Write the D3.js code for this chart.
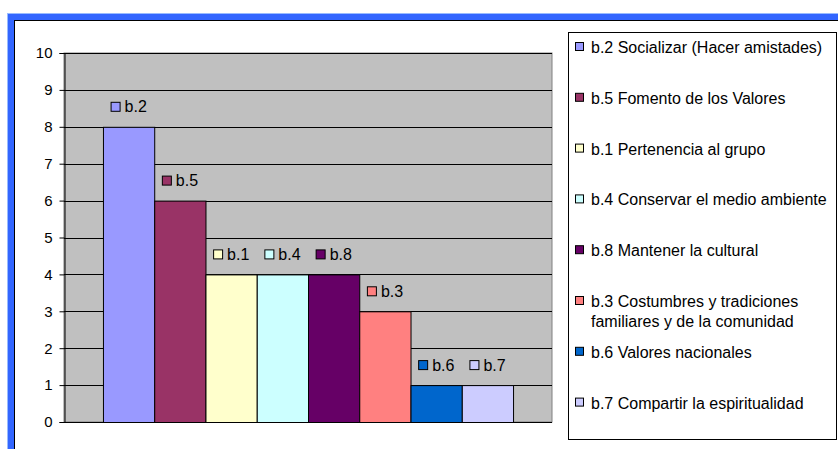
<!DOCTYPE html>
<html>
<head>
<meta charset="utf-8">
<script src="https://cdn.jsdelivr.net/npm/d3@7"></script>
<style>
  body { margin: 0; background: #fff; }
  svg { display: block; font-family: "Liberation Sans", Arial, sans-serif; }
</style>
</head>
<body>
<svg id="chart" width="838" height="449"></svg>
<script>
"use strict";

// data
const codes = ["b.2", "b.5", "b.1", "b.4", "b.8", "b.3", "b.6", "b.7"];
const values = [8, 6, 4, 4, 4, 3, 1, 1];
const legendLabels = [
  ["b.2 Socializar (Hacer amistades)"],
  ["b.5 Fomento de los Valores"],
  ["b.1 Pertenencia al grupo"],
  ["b.4 Conservar el medio ambiente"],
  ["b.8 Mantener la cultural"],
  ["b.3 Costumbres y tradiciones", "familiares y de la comunidad"],
  ["b.6 Valores nacionales"],
  ["b.7 Compartir la espiritualidad"]
];
const yTicks = [0, 1, 2, 3, 4, 5, 6, 7, 8, 9, 10];

const colors = ["#9999FF", "#993366", "#FFFFCC", "#CCFFFF", "#660066", "#FF8080", "#0066CC", "#CCCCFF"];

const FONT = "'Liberation Sans', Arial, sans-serif";
const svg = d3.select("#chart");

// blue frame (top + left)
svg.append("rect").attr("x", 7).attr("y", 13).attr("width", 831).attr("height", 8).attr("fill", "#3366FF");
svg.append("rect").attr("x", 7).attr("y", 13).attr("width", 8).attr("height", 436).attr("fill", "#3366FF");
svg.append("line").attr("x1", 7).attr("x2", 838).attr("y1", 13.5).attr("y2", 13.5).attr("stroke", "#99BBFF");
svg.append("line").attr("x1", 7.5).attr("x2", 7.5).attr("y1", 13).attr("y2", 449).attr("stroke", "#99BBFF");
svg.append("line").attr("x1", 14).attr("x2", 838).attr("y1", 20.5).attr("y2", 20.5).attr("stroke", "#000");
svg.append("line").attr("x1", 14.5).attr("x2", 14.5).attr("y1", 20).attr("y2", 449).attr("stroke", "#000");

const plot = { left: 64, right: 552, top: 53, bottom: 422 };

const x = d3.scaleBand()
  .domain(codes)
  .range([plot.left, plot.right])
  .paddingInner(0)
  .paddingOuter(0.76);

const y = d3.scaleLinear().domain([0, 10]).range([plot.bottom, plot.top]);

// plot background
svg.append("rect")
  .attr("x", plot.left).attr("y", plot.top)
  .attr("width", plot.right - plot.left).attr("height", plot.bottom - plot.top)
  .attr("fill", "#C0C0C0")
  .attr("stroke", "#808080");

// gridlines
svg.append("g")
  .selectAll("line")
  .data(yTicks.filter((d) => d > 0))
  .enter()
  .append("line")
  .attr("x1", plot.left).attr("x2", plot.right)
  .attr("y1", (d) => Math.round(y(d)) + 0.5)
  .attr("y2", (d) => Math.round(y(d)) + 0.5)
  .attr("stroke", "#000");

// y axis
const yAxis = svg.append("g")
  .attr("transform", `translate(${plot.left + 0.5},0)`)
  .call(d3.axisLeft(y).tickValues(yTicks).tickSize(5).tickPadding(7).tickFormat(d3.format("d")));
yAxis.select(".domain").attr("stroke", "#000");
yAxis.selectAll(".tick line").attr("stroke", "#000");
yAxis.selectAll(".tick text").attr("font-size", 15).attr("fill", "#000").attr("font-family", FONT);

// bars
svg.append("g")
  .selectAll("rect")
  .data(values)
  .enter()
  .append("rect")
  .attr("x", (d, i) => x(codes[i]) + 0.5)
  .attr("y", (d) => y(d) + 0.5)
  .attr("width", x.bandwidth())
  .attr("height", (d) => y(0) - y(d))
  .attr("fill", (d, i) => colors[i])
  .attr("stroke", "#000");

// x axis baseline
svg.append("line")
  .attr("x1", plot.left).attr("x2", plot.right)
  .attr("y1", plot.bottom + 0.5).attr("y2", plot.bottom + 0.5)
  .attr("stroke", "#000");

// data labels
const labels = svg.append("g")
  .selectAll("g")
  .data(values)
  .enter()
  .append("g")
  .attr("transform", (d, i) => `translate(${x(codes[i]) + x.bandwidth() / 2 - 21},${y(d) - 20})`);

labels.append("rect")
  .attr("x", 3.5).attr("y", -4.5)
  .attr("width", 9).attr("height", 9)
  .attr("fill", (d, i) => colors[i])
  .attr("stroke", "#000");

labels.append("text")
  .attr("x", 17)
  .attr("y", 5.5)
  .attr("font-size", 16)
  .text((d, i) => codes[i]);

// legend
svg.append("rect")
  .attr("x", 568.5).attr("y", 32.5)
  .attr("width", 268).attr("height", 407)
  .attr("fill", "#fff")
  .attr("stroke", "#000");

const legend = svg.append("g")
  .selectAll("g")
  .data(legendLabels)
  .enter()
  .append("g")
  .attr("transform", (d, i) => `translate(575,${47 + i * 50.8})`);

legend.append("rect")
  .attr("x", 0.5).attr("y", -4.5)
  .attr("width", 8).attr("height", 8)
  .attr("fill", (d, i) => colors[i])
  .attr("stroke", "#000");

legend.append("text")
  .attr("x", 16)
  .attr("y", 6)
  .attr("font-size", 16)
  .selectAll("tspan")
  .data((d) => d)
  .enter()
  .append("tspan")
  .attr("x", 16)
  .attr("dy", (d, i) => (i === 0 ? 0 : 20))
  .text((d) => d);
</script>
</body>
</html>
